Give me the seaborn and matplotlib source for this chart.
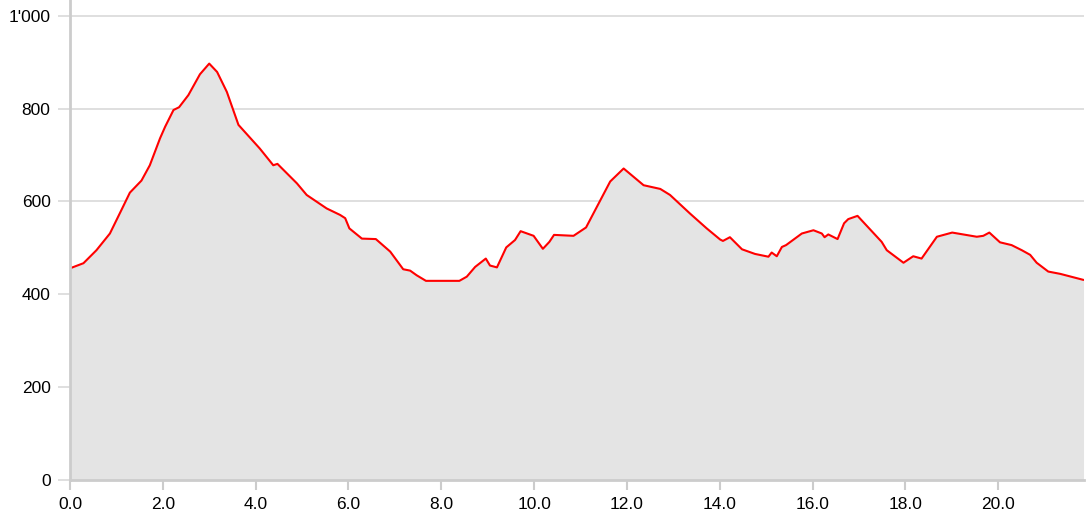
import numpy as np
import pandas as pd
import matplotlib
matplotlib.use("Agg")
import matplotlib.pyplot as plt
from matplotlib.ticker import FuncFormatter, MultipleLocator
import seaborn as sns

# distance (km) and elevation (m)
km = [0.00, 0.29, 0.57, 0.86, 1.11, 1.29, 1.54, 1.72, 1.94, 2.05, 2.23, 2.35, 2.55, 2.80,
      3.00, 3.17, 3.38, 3.63, 4.09, 4.38, 4.47, 4.89, 5.10, 5.53, 5.82, 5.93, 6.02, 6.29,
      6.59, 6.90, 7.18, 7.33, 7.47, 7.67, 8.19, 8.39, 8.55, 8.73, 8.96, 9.05, 9.20, 9.40,
      9.59, 9.71, 9.99, 10.19, 10.33, 10.43, 10.85, 11.12, 11.64, 11.93, 12.36, 12.72,
      12.93, 13.36, 13.72, 14.01, 14.07, 14.22, 14.48, 14.76, 15.05, 15.12, 15.23, 15.34,
      15.43, 15.77, 16.02, 16.20, 16.26, 16.34, 16.54, 16.68, 16.77, 16.97, 17.49, 17.60,
      17.96, 18.17, 18.35, 18.68, 19.01, 19.54, 19.68, 19.81, 20.04, 20.29, 20.51, 20.69,
      20.83, 21.08, 21.34, 21.84]
elev = [456, 467, 495, 531, 582, 619, 645, 678, 736, 761, 797, 803, 829, 874,
        897, 879, 836, 765, 714, 678, 681, 639, 614, 585, 571, 564, 542, 520,
        519, 492, 454, 451, 441, 429, 429, 429, 438, 459, 477, 462, 458, 501,
        517, 536, 526, 498, 513, 528, 526, 544, 643, 671, 635, 627,
        614, 574, 542, 518, 515, 523, 497, 487, 481, 490, 482, 502,
        506, 531, 538, 531, 523, 529, 519, 553, 562, 569, 513, 495,
        468, 482, 477, 524, 533, 524, 526, 533, 512, 506, 495, 485,
        468, 449, 444, 431]

df = pd.DataFrame({"km": km, "elev": elev})

sns.set_style("white")
plt.rcParams["font.family"] = ["Liberation Sans", "DejaVu Sans"]

fig = plt.figure(figsize=(10.86, 5.17), dpi=100)
ax = fig.add_axes([70 / 1086, 37 / 517, 1014 / 1086, 480 / 517])

ax.fill_between(df["km"], df["elev"], 0, color="#e4e4e4", lw=0, zorder=1)
sns.lineplot(data=df, x="km", y="elev", color="#ff0000", lw=1.5, ax=ax, zorder=3)

ax.set_xlim(0, 21.85)
ax.set_ylim(0, 1034)
ax.yaxis.set_major_locator(MultipleLocator(200))
ax.xaxis.set_major_locator(MultipleLocator(2))
ax.yaxis.set_major_formatter(FuncFormatter(lambda v, p: f"{int(v):,}".replace(",", "'")))
ax.xaxis.set_major_formatter(FuncFormatter(lambda v, p: f"{v:.1f}"))
ax.grid(axis="y", color="#d9d9d9", lw=1.2, zorder=0)
ax.set_axisbelow(True)

for s in ["top", "right"]:
    ax.spines[s].set_visible(False)
for s in ["left", "bottom"]:
    ax.spines[s].set_color("#cccccc")
    ax.spines[s].set_linewidth(2)
    ax.spines[s].set_zorder(4)

ax.tick_params(axis="y", direction="out", length=9, width=1.2, color="#d9d9d9",
               labelsize=12.5, labelcolor="black", pad=5, left=True)
ax.tick_params(axis="x", direction="out", length=7.5, width=1.5, color="#cccccc",
               labelsize=12.5, labelcolor="black", pad=5, bottom=True)
ax.set_xlabel("")
ax.set_ylabel("")

fig.savefig("out.png", dpi=100)
